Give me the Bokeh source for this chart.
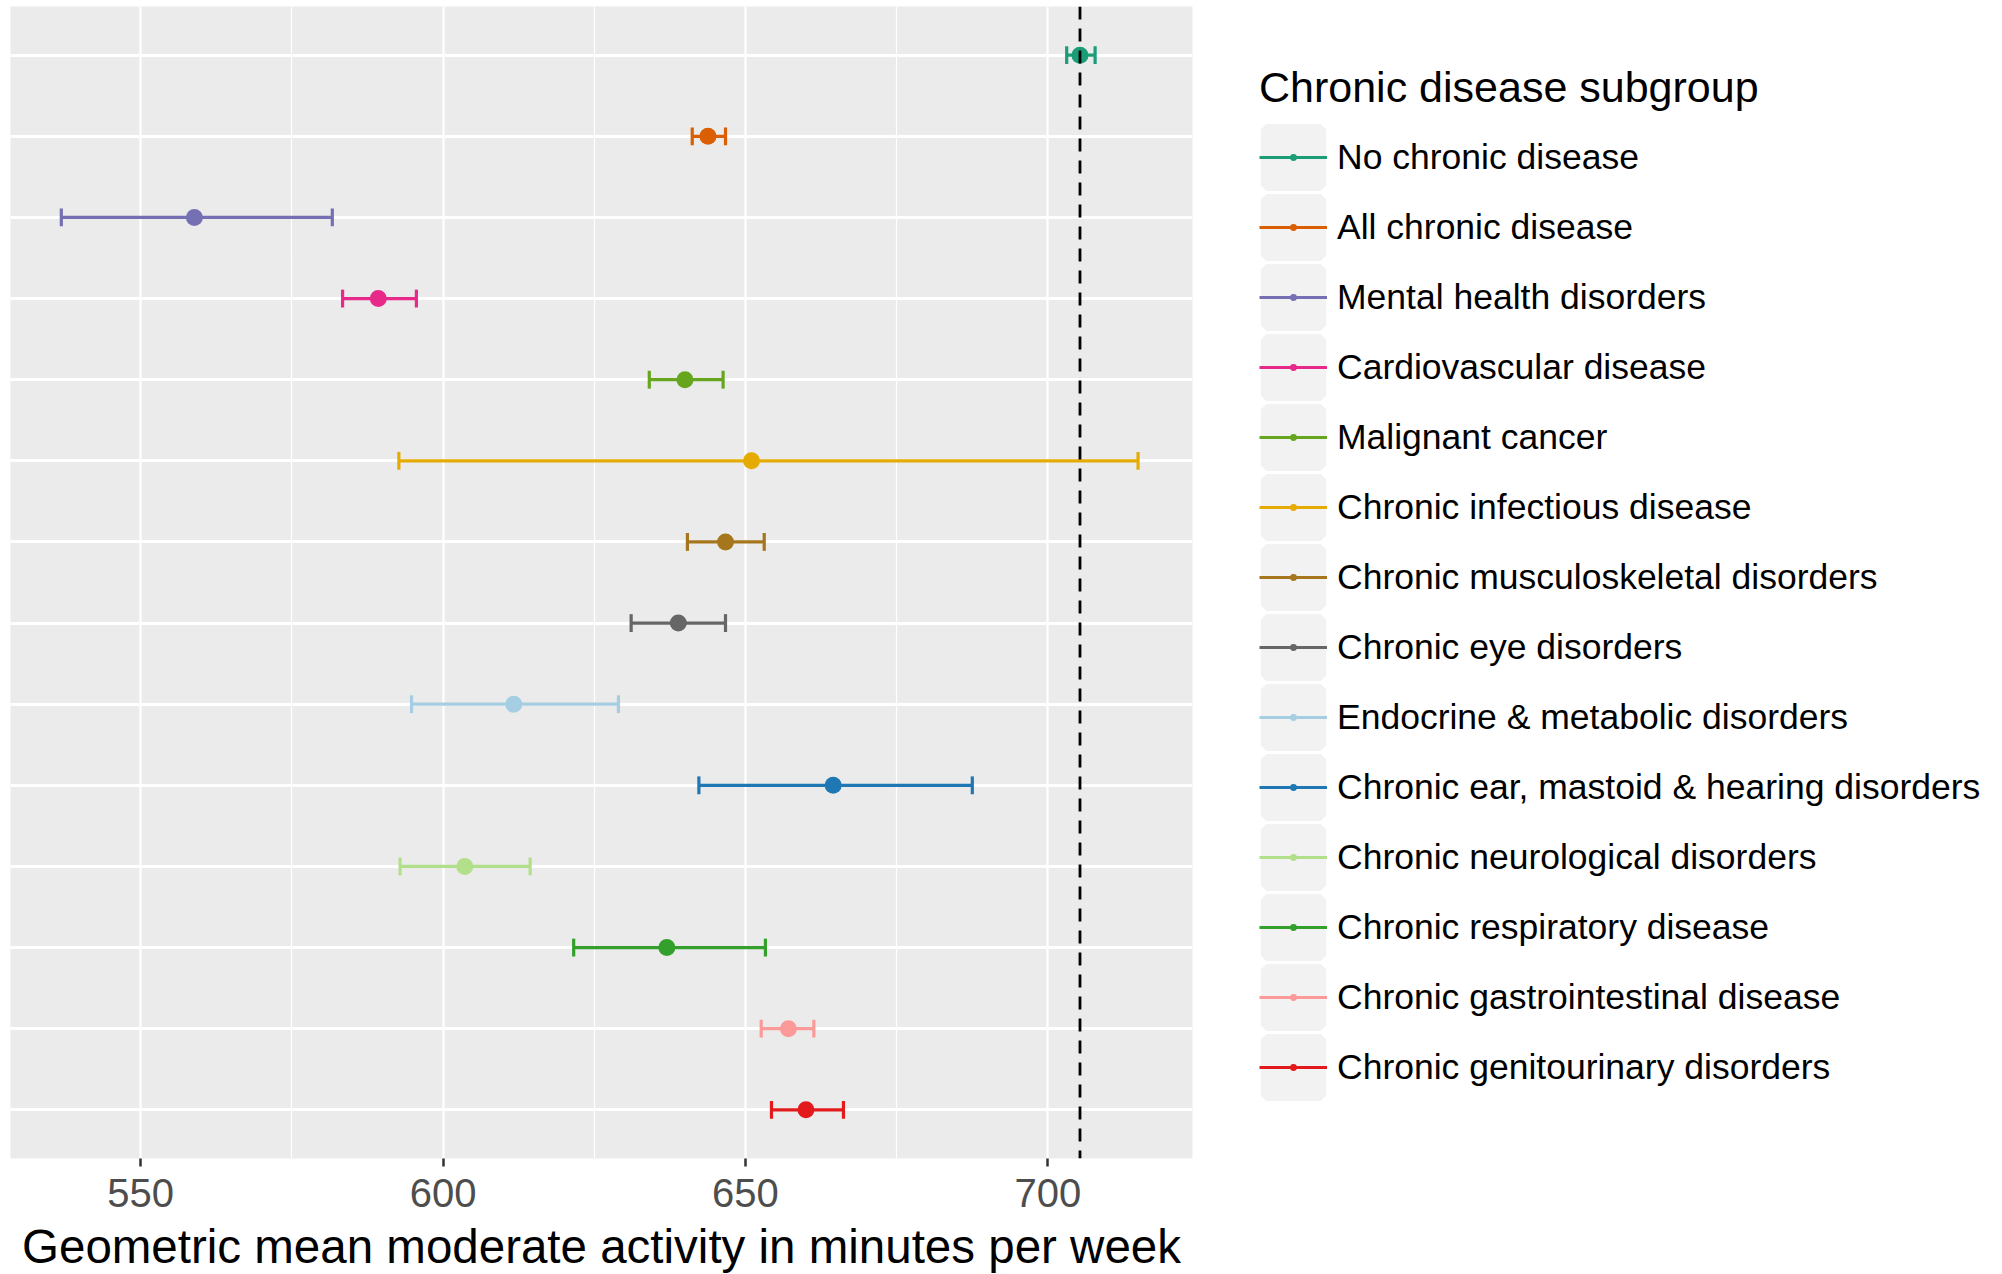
from bokeh.plotting import figure
from bokeh.models import (ColumnDataSource, Range1d, FixedTicker, Span, Legend, LegendItem)
from bokeh.embed import file_html
from bokeh.resources import INLINE

subgroups = [
    "No chronic disease",
    "All chronic disease",
    "Mental health disorders",
    "Cardiovascular disease",
    "Malignant cancer",
    "Chronic infectious disease",
    "Chronic musculoskeletal disorders",
    "Chronic eye disorders",
    "Endocrine & metabolic disorders",
    "Chronic ear, mastoid & hearing disorders",
    "Chronic neurological disorders",
    "Chronic respiratory disease",
    "Chronic gastrointestinal disease",
    "Chronic genitourinary disorders",
]
means = [705.3, 643.8, 558.9, 589.3, 640.0, 651.0, 646.7, 638.9, 611.7, 664.5, 603.6, 637.0, 657.1, 660.0]
lower = [703.1, 641.2, 536.9, 583.4, 634.1, 592.7, 640.4, 631.1, 594.8, 642.3, 592.9, 621.6, 652.6, 654.3]
upper = [707.8, 646.7, 581.7, 595.6, 646.3, 714.9, 653.1, 646.7, 629.0, 687.5, 614.4, 653.3, 661.3, 666.2]
colors = ["#1B9E77", "#D95F02", "#7570B3", "#E7298A", "#66A61E", "#E6AB02", "#A6761D",
          "#666666", "#A6CEE3", "#1F78B4", "#B2DF8A", "#33A02C", "#FB9A99", "#E31A1C"]
x_ticks = [550, 600, 650, 700]
x_minor = [575, 625, 675]
reference_value = means[0]

FONT = "Liberation Sans"
n = len(subgroups)
ypos = [n - i for i in range(n)]
cap = 0.11

src = ColumnDataSource(dict(
    name=subgroups, mean=means, lo=lower, hi=upper, color=colors, y=ypos,
    y0=[y - cap for y in ypos], y1=[y + cap for y in ypos],
))

p = figure(frame_width=1182, frame_height=1152, output_backend="svg", toolbar_location=None,
           x_range=Range1d(528.5, 723.9), y_range=Range1d(0.4, n + 0.6),
           min_border_left=10, min_border_right=810, min_border_top=6, min_border_bottom=110)
p.background_fill_color = "#EBEBEB"
p.border_fill_color = "white"
p.outline_line_color = None

# legend key backgrounds (zero-size in the plot, only visible as legend keys)
key_r = p.rect(x="mean", y="y", width=0, height=0, source=src,
               fill_color="#F2F2F2", line_color="#F2F2F2", line_width=11, line_alpha=1)
bar_r = p.segment(x0="lo", y0="y", x1="hi", y1="y", source=src, line_color="color", line_width=3.2)
p.segment(x0="lo", y0="y0", x1="lo", y1="y1", source=src, line_color="color", line_width=3.2)
p.segment(x0="hi", y0="y0", x1="hi", y1="y1", source=src, line_color="color", line_width=3.2)
pt_r = p.scatter(x="mean", y="y", source=src, marker="dot", size=68,
                 line_color="color", fill_color="color")

p.add_layout(Span(location=reference_value, dimension="height", line_color="black",
                  line_width=2.8, line_dash="13 9"))

# axes
p.yaxis.visible = False
p.ygrid.ticker = FixedTicker(ticks=ypos)
p.ygrid.grid_line_color = "white"
p.ygrid.grid_line_width = 3

p.xaxis.ticker = FixedTicker(ticks=x_ticks, minor_ticks=x_minor)
p.xgrid.grid_line_color = "white"
p.xgrid.grid_line_width = 2.2
p.xgrid.minor_grid_line_color = "white"
p.xgrid.minor_grid_line_width = 1.2
p.xaxis.axis_line_color = None
p.xaxis.major_tick_line_color = "#333333"
p.xaxis.major_tick_line_width = 2.5
p.xaxis.major_tick_out = 8
p.xaxis.major_tick_in = 0
p.xaxis.minor_tick_line_color = None
p.xaxis.major_label_text_font = FONT
p.xaxis.major_label_text_font_size = "40px"
p.xaxis.major_label_text_color = "#4D4D4D"
p.xaxis.major_label_standoff = 12
p.xaxis.axis_label = "Geometric mean moderate activity in minutes per week"
p.xaxis.axis_label_text_font = FONT
p.xaxis.axis_label_text_font_size = "47.5px"
p.xaxis.axis_label_text_font_style = "normal"
p.xaxis.axis_label_text_color = "black"
p.xaxis.axis_label_standoff = 10

items = [LegendItem(label=subgroups[i], renderers=[key_r, bar_r, pt_r], index=i) for i in range(n)]
legend = Legend(items=items, title="Chronic disease subgroup", location=(67, 56),
                glyph_width=68, glyph_height=70, spacing=0, label_standoff=10,
                padding=0, margin=0, border_line_color=None, background_fill_alpha=0,
                title_standoff=10)
legend.title_text_font = FONT
legend.title_text_font_size = "43px"
legend.title_text_font_style = "normal"
legend.title_text_color = "black"
legend.label_text_font = FONT
legend.label_text_font_size = "35.5px"
legend.label_text_color = "black"
p.add_layout(legend, "right")

open("out.html", "w").write(file_html(p, INLINE))
